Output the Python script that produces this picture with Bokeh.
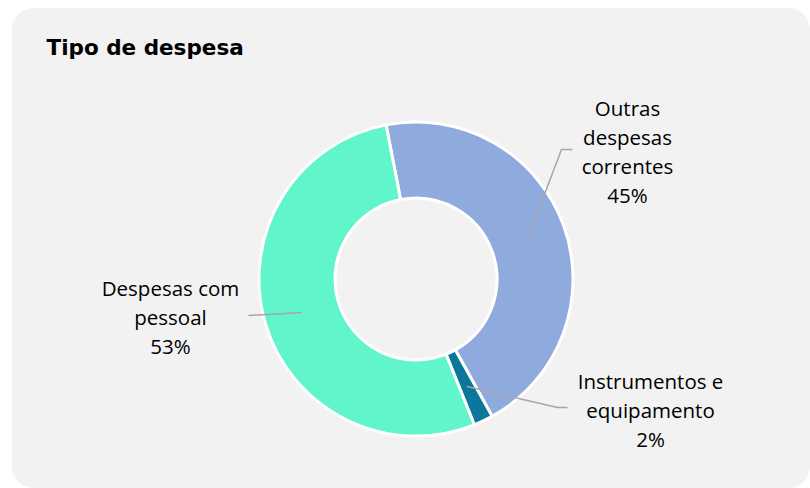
import numpy as np
from bokeh.plotting import figure
from bokeh.models import Range1d, Label
from bokeh.core.properties import value
from bokeh.embed import file_html
from bokeh.resources import INLINE

# ---- data ----
categories = ["Outras despesas correntes", "Instrumentos e equipamento", "Despesas com pessoal"]
label_lines = [["Outras", "despesas", "correntes"], ["Instrumentos e", "equipamento"], ["Despesas com", "pessoal"]]
shares = [45, 2, 53]
colors = ["#8FAADC", "#0B789B", "#60F5CB"]

# ---- layout (page pixel coordinates, y measured from bottom) ----
W, H = 798, 480
X0, Y0 = 12, 8
def sy(y):
    return 488 - y

cx, cy = 415.5, sy(278.5)
r_out, r_in = 157, 81
start_deg = 101.0

p = figure(width=W, height=H, output_backend="svg", toolbar_location=None,
           x_range=Range1d(X0, X0 + W), y_range=Range1d(sy(Y0 + H), sy(Y0)),
           min_border=0, outline_line_color=None,
           background_fill_color=None, border_fill_color=None)
p.axis.visible = False
p.grid.visible = False
p.styles = {"border-radius": "22px", "background-color": "#F2F2F2",
            "margin-left": "12px", "margin-top": "8px"}

vals = np.array(shares, dtype=float)
frac = vals / vals.sum()
ends = np.radians(start_deg) - 2 * np.pi * np.cumsum(frac)
starts = np.concatenate([[np.radians(start_deg)], ends[:-1]])

p.annular_wedge(x=cx, y=cy, inner_radius=r_in, outer_radius=r_out,
                start_angle=list(ends), end_angle=list(starts),
                fill_color=colors, line_color="white", line_width=3)

# leader lines start at mid-angle, mid-radius
mids = (starts + ends) / 2
rm = (r_in + r_out) / 2
sx_ = cx + rm * np.cos(mids)
sy_ = cy + rm * np.sin(mids)

elbows = [(561, sy(149), 572, sy(149)), (557, sy(407), 567, sy(407)), (248, sy(315), 248, sy(315))]
for i, (ex, ey, hx, hy) in enumerate(elbows):
    p.line([sx_[i], ex, hx], [sy_[i], ey, hy], line_color="#A6A6A6", line_width=1.5)

label_pos = [(627, 107), (650, 380), (170, 287)]
font = "Open Sans"
for i, (lx, ly) in enumerate(label_pos):
    lines = label_lines[i] + [f"{shares[i]}%"]
    for j, t in enumerate(lines):
        p.add_layout(Label(x=lx, y=sy(ly + 29.3 * j), text=t, text_align="center",
                           text_baseline="middle", text_font=font, text_font_size="20.5px",
                           text_color="#000000"))

p.add_layout(Label(x=46, y=sy(47), text="Tipo de despesa", text_align="left",
                   text_baseline="middle", text_font="DejaVu Sans", text_font_style="bold",
                   text_font_size="21.5px", text_color="#000000"))

open("out.html", "w").write(file_html(p, INLINE))
